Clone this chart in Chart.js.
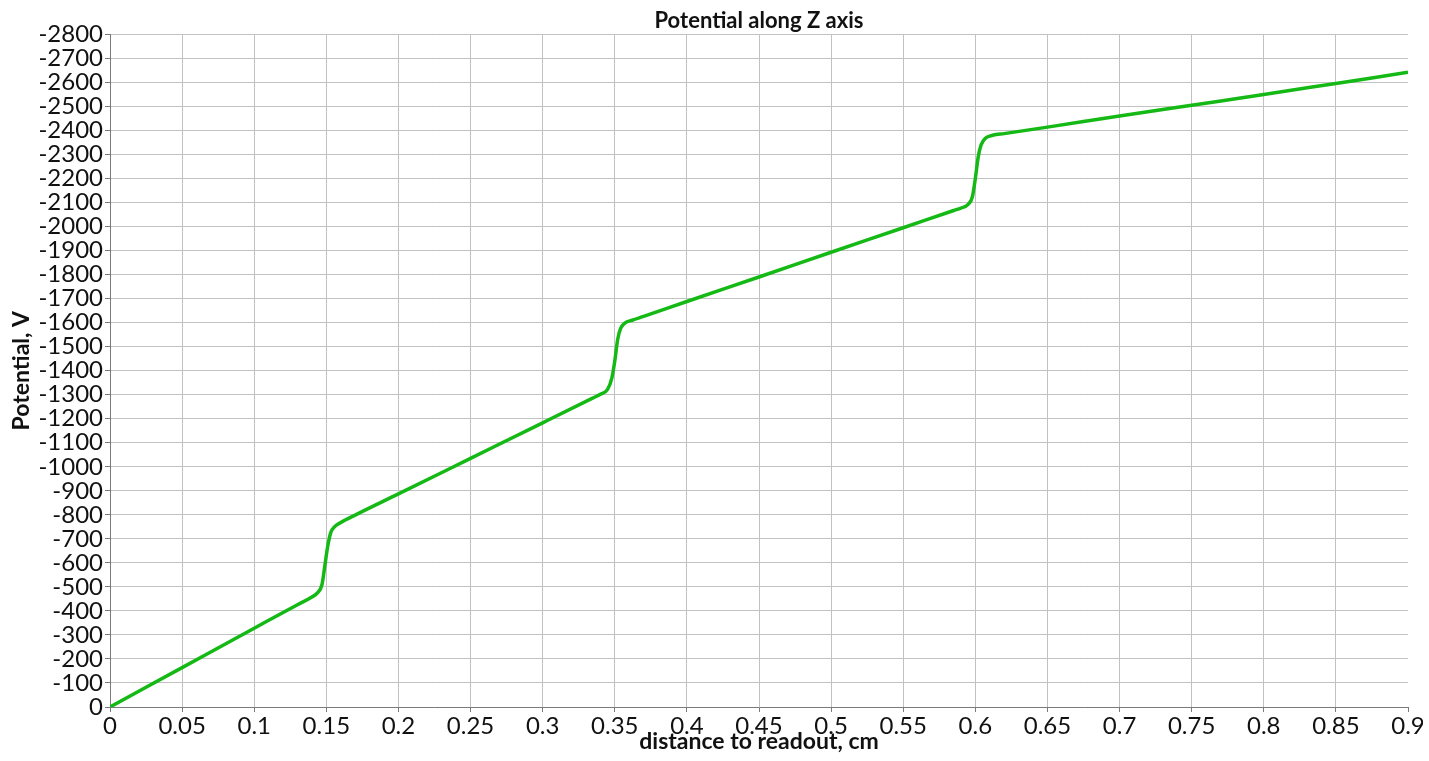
<!DOCTYPE html>
<html>
<head>
<meta charset="utf-8">
<title>Potential along Z axis</title>
<script src="https://cdn.jsdelivr.net/npm/chart.js@4/dist/chart.umd.min.js"></script>
<style>
    html, body { margin: 0; padding: 0; background: #ffffff; overflow: hidden; }
    #wrap { width: 1423px; height: 761px; }
</style>
</head>
<body>
<div id="wrap"><canvas id="potentialChart"></canvas></div>
<script>

/* Data */

// distance to readout (cm)
const distance = [
    0, 0.05, 0.1, 0.13, 0.14, 0.144, 0.147, 0.149, 0.151, 0.153, 0.156, 0.16, 0.17,
    0.2, 0.25, 0.3, 0.335, 0.34, 0.345, 0.348, 0.35, 0.352, 0.354, 0.357, 0.362, 0.37,
    0.4, 0.45, 0.5, 0.55, 0.585, 0.59, 0.595, 0.598, 0.6, 0.602, 0.604, 0.607, 0.612, 0.62,
    0.65, 0.7, 0.75, 0.8, 0.85, 0.9
];

// potential (V)
const potential = [
    0, -164, -328, -426, -458, -476, -510, -590, -670, -725, -752, -768, -799,
    -887, -1035, -1183, -1287, -1302, -1322, -1370, -1440, -1530, -1575, -1598, -1610, -1626,
    -1688, -1790, -1893, -1995, -2067, -2077, -2092, -2125, -2200, -2290, -2340, -2368, -2380, -2387,
    -2414, -2460, -2505, -2550, -2596, -2642
];

// axis limits
const xRange = [0, 0.9];
const yRange = [-2800, 0];

const chartTitle = 'Potential along Z axis';
const xTitle = 'distance to readout, cm';
const yTitle = 'Potential, V';

const fontName = 'Lato, "Open Sans", sans-serif';
const gridColor = '#c2c2c2';
const axisColor = '#7a7a7a';

// gridline at the last tick is not drawn
function gridLine(ctx) {
    return ctx.index === ctx.chart.scales[ctx.scale.id].ticks.length - 1 ? 'rgba(0,0,0,0)' : gridColor;
}

function createChart() {
    const canvas = document.getElementById('potentialChart');
    new Chart(canvas, {
        type: 'line',
        data: {
            datasets: [{
                label: 'Potential',
                data: distance.map((d, i) => ({ x: d, y: potential[i] })),
                borderColor: '#15b915',
                borderWidth: 3.5,
                pointRadius: 0,
                cubicInterpolationMode: 'monotone',
                fill: false
            }]
        },
        options: {
            responsive: true,
            maintainAspectRatio: false,
            animation: false,
            layout: { padding: { left: 0, right: 15, top: 0, bottom: 0 } },
            plugins: {
                legend: { display: false },
                tooltip: { enabled: false },
                title: {
                    display: true,
                    text: chartTitle,
                    fullSize: false,
                    color: '#111',
                    font: { family: fontName, size: 22, weight: 'bold' },
                    padding: { top: 8, bottom: 0 }
                }
            },
            scales: {
                x: {
                    type: 'linear',
                    min: xRange[0],
                    max: xRange[1],
                    border: { color: axisColor, width: 1 },
                    grid: { color: gridLine, tickColor: axisColor, tickLength: 5 },
                    ticks: {
                        stepSize: 0.05,
                        padding: 0,
                        color: '#111',
                        maxRotation: 0,
                        autoSkip: false,
                        font: { family: fontName, size: 24 },
                        callback: v => String(Number(v.toFixed(2)))
                    },
                    title: {
                        display: true,
                        text: xTitle,
                        color: '#111',
                        font: { family: fontName, size: 23, weight: 'bold' },
                        padding: { top: 0, bottom: 6 }
                    },
                    afterFit: s => { s.height = 54; s.paddingLeft = 0; s.paddingRight = 0; }
                },
                y: {
                    type: 'linear',
                    reverse: true,
                    min: yRange[0],
                    max: yRange[1],
                    border: { color: axisColor, width: 1 },
                    grid: { color: ctx => ctx.index === 0 ? 'rgba(0,0,0,0)' : gridColor, tickColor: axisColor, tickLength: 5 },
                    ticks: {
                        stepSize: 100,
                        padding: 2,
                        color: '#111',
                        autoSkip: false,
                        font: { family: fontName, size: 24 },
                        callback: v => String(v)
                    },
                    title: {
                        display: true,
                        text: yTitle,
                        color: '#111',
                        font: { family: fontName, size: 23, weight: 'bold' },
                        padding: { top: 8, bottom: 0 }
                    },
                    afterFit: s => { s.width = 110; s.paddingTop = 0; s.paddingBottom = 0; }
                }
            }
        }
    });
}

document.addEventListener('DOMContentLoaded', createChart);
</script>
</body>
</html>
